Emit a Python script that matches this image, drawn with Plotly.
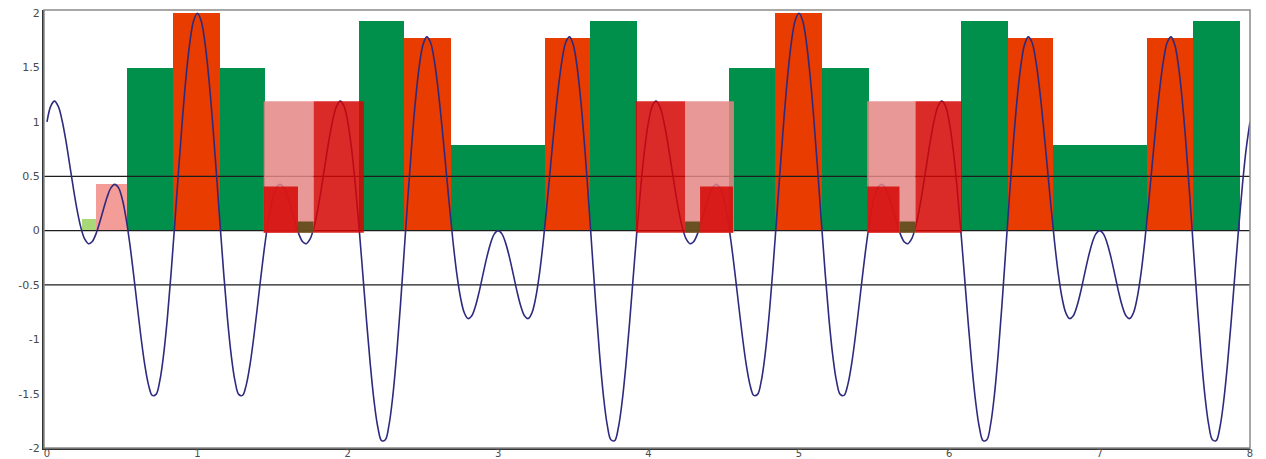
import plotly.graph_objects as go

# ---------------- data ----------------
# Curve: values sampled every 0.025 along x from 0 to 8
CURVE_STEP = 0.025
curve_y = [
    # x = 0.000 .. 0.975
    1.000, 1.146, 1.192, 1.143, 1.016, 0.832, 0.615, 0.393, 0.191, 0.030,
    -0.076, -0.120, -0.102, -0.032, 0.074, 0.195, 0.309, 0.393, 0.426, 0.396,
    0.293, 0.120, -0.115, -0.393, -0.691, -0.981, -1.233, -1.419, -1.516, -1.507,
    -1.383, -1.146, -0.809, -0.393, 0.074, 0.556, 1.016, 1.419, 1.733, 1.932,
    # x = 1.000 .. 3.000
    2.000, 1.932, 1.733, 1.419, 1.016, 0.556, 0.074, -0.393, -0.809, -1.146,
    -1.383, -1.507, -1.516, -1.419, -1.233, -0.981, -0.691, -0.393, -0.115, 0.120,
    0.293, 0.396, 0.426, 0.393, 0.309, 0.195, 0.074, -0.032, -0.102, -0.120,
    -0.076, 0.030, 0.191, 0.393, 0.615, 0.832, 1.016, 1.143, 1.192, 1.146,
    1.000, 0.756, 0.426, 0.032, -0.398, -0.832, -1.233, -1.569, -1.809, -1.932,
    -1.924, -1.783, -1.516, -1.143, -0.692, -0.195, 0.309, 0.783, 1.192, 1.507,
    1.707, 1.783, 1.733, 1.569, 1.309, 0.981, 0.615, 0.244, -0.102, -0.396,
    -0.617, -0.756, -0.809, -0.783, -0.692, -0.556, -0.398, -0.244, -0.115, -0.030,
    0.000,
    # x = 3.025 .. 5.000
    -0.030, -0.115, -0.244, -0.398, -0.556, -0.692, -0.783, -0.809, -0.756, -0.617,
    -0.396, -0.102, 0.244, 0.615, 0.981, 1.309, 1.569, 1.733, 1.783, 1.707,
    1.507, 1.192, 0.783, 0.309, -0.195, -0.692, -1.143, -1.516, -1.783, -1.924,
    -1.932, -1.809, -1.569, -1.233, -0.832, -0.398, 0.032, 0.426, 0.756, 1.000,
    1.146, 1.192, 1.143, 1.016, 0.832, 0.615, 0.393, 0.191, 0.030, -0.076,
    -0.120, -0.102, -0.032, 0.074, 0.195, 0.309, 0.393, 0.426, 0.396, 0.293,
    0.120, -0.115, -0.393, -0.691, -0.981, -1.233, -1.419, -1.516, -1.507, -1.383,
    -1.146, -0.809, -0.393, 0.074, 0.556, 1.016, 1.419, 1.733, 1.932, 2.000,
    # x = 5.025 .. 7.000
    1.932, 1.733, 1.419, 1.016, 0.556, 0.074, -0.393, -0.809, -1.146, -1.383,
    -1.507, -1.516, -1.419, -1.233, -0.981, -0.691, -0.393, -0.115, 0.120, 0.293,
    0.396, 0.426, 0.393, 0.309, 0.195, 0.074, -0.032, -0.102, -0.120, -0.076,
    0.030, 0.191, 0.393, 0.615, 0.832, 1.016, 1.143, 1.192, 1.146, 1.000,
    0.756, 0.426, 0.032, -0.398, -0.832, -1.233, -1.569, -1.809, -1.932, -1.924,
    -1.783, -1.516, -1.143, -0.692, -0.195, 0.309, 0.783, 1.192, 1.507, 1.707,
    1.783, 1.733, 1.569, 1.309, 0.981, 0.615, 0.244, -0.102, -0.396, -0.617,
    -0.756, -0.809, -0.783, -0.692, -0.556, -0.398, -0.244, -0.115, -0.030, 0.000,
    # x = 7.025 .. 8.000
    -0.030, -0.115, -0.244, -0.398, -0.556, -0.692, -0.783, -0.809, -0.756, -0.617,
    -0.396, -0.102, 0.244, 0.615, 0.981, 1.309, 1.569, 1.733, 1.783, 1.707,
    1.507, 1.192, 0.783, 0.309, -0.195, -0.692, -1.143, -1.516, -1.783, -1.924,
    -1.932, -1.809, -1.569, -1.233, -0.832, -0.398, 0.032, 0.426, 0.756, 1.000,
]
curve_x = [round(i * CURVE_STEP, 3) for i in range(len(curve_y))]

# Opaque bars: left edge, right edge, height, kind
bar_left = [0.230, 0.325, 0.533, 0.839, 1.149, 2.078, 2.377, 2.687, 3.313, 3.612,
            4.535, 4.841, 5.151, 6.078, 6.388, 6.693, 7.318, 7.618]
bar_right = [0.325, 0.533, 0.839, 1.149, 1.448, 2.377, 2.687, 3.313, 3.624, 3.922,
             4.845, 5.151, 5.465, 6.388, 6.693, 7.324, 7.618, 7.933]
bar_height = [0.11, 0.43, 1.50, 2.00, 1.50, 1.925, 1.775, 0.79, 1.775, 1.925,
              1.50, 2.00, 1.50, 1.925, 1.775, 0.79, 1.775, 1.925]
bar_kind = ["trough_small", "peak_small", "trough", "peak", "trough", "trough", "peak",
            "trough", "peak", "trough", "trough", "peak", "trough", "trough", "peak",
            "trough", "peak", "trough"]

# Translucent overlay blocks: left, right, top, kind (drawn over the curve)
ov_left = [1.441, 1.441, 1.669, 1.773, 3.916, 4.243, 4.243, 4.343, 5.454, 5.454, 5.669, 5.775]
ov_right = [1.773, 1.669, 1.773, 2.107, 4.243, 4.568, 4.343, 4.562, 5.775, 5.669, 5.775, 6.084]
ov_top = [1.19, 0.405, 0.085, 1.19, 1.19, 1.19, 0.085, 0.405, 1.19, 0.405, 0.085, 1.19]
ov_kind = ["halo", "red", "olive", "red", "red", "halo", "olive", "red", "halo", "red", "olive", "red"]
ov_base = -0.02

ref_levels = [-0.5, 0.0, 0.5]
x_ticks = [0, 1, 2, 3, 4, 5, 6, 7, 8]
y_ticks = [-2, -1.5, -1, -0.5, 0, 0.5, 1, 1.5, 2]

# ---------------- styles ----------------
bar_colors = {"trough_small": "#A8D878", "peak_small": "#F49C98",
              "trough": "#00904C", "peak": "#E83C00"}
ov_colors = {"halo": "rgba(228,134,132,0.85)", "red": "rgba(212,6,3,0.85)",
             "olive": "rgba(85,68,14,0.85)"}
X_RANGE = [-0.02, 8.0]
Y_RANGE = [-2.0, 2.03]

fig = go.Figure()

fig.add_trace(go.Bar(
    x=[(l + r) / 2 for l, r in zip(bar_left, bar_right)],
    width=[r - l for l, r in zip(bar_left, bar_right)],
    y=bar_height, base=0,
    marker=dict(color=[bar_colors[k] for k in bar_kind], line=dict(width=0)),
    hoverinfo="skip", showlegend=False))

# reference lines
rx, ry = [], []
for lv in ref_levels:
    rx += [X_RANGE[0], X_RANGE[1], None]
    ry += [lv, lv, None]
fig.add_trace(go.Scatter(x=rx, y=ry, mode="lines", line=dict(color="#1e1e1e", width=1.2),
                         hoverinfo="skip", showlegend=False))

# curve
fig.add_trace(go.Scatter(x=curve_x, y=curve_y, mode="lines",
                         line=dict(color="#2E2A7E", width=1.6, shape="spline", smoothing=1.0),
                         hoverinfo="skip", showlegend=False))

# translucent overlay blocks
for kind in ["halo", "red", "olive"]:
    xs, ys = [], []
    for l, r, t, k in zip(ov_left, ov_right, ov_top, ov_kind):
        if k != kind:
            continue
        xs += [l, l, r, r, l, None]
        ys += [ov_base, t, t, ov_base, ov_base, None]
    fig.add_trace(go.Scatter(x=xs, y=ys, mode="lines", fill="toself",
                             fillcolor=ov_colors[kind], line=dict(width=0),
                             hoverinfo="skip", showlegend=False))

fig.update_layout(
    width=1266, height=459,
    margin=dict(l=44, r=16, t=10, b=11, autoexpand=False),
    paper_bgcolor="white", plot_bgcolor="white",
    barmode="overlay", bargap=0, showlegend=False,
    font=dict(family="DejaVu Sans", size=11, color="#4a4a4a"),
    shapes=[dict(type="rect", xref="paper", yref="paper", x0=0, x1=1, y0=0, y1=1,
                 line=dict(color="#8a8a8a", width=1.5), layer="above")],
)
fig.update_xaxes(range=X_RANGE, tickvals=x_ticks, ticktext=[str(v) for v in x_ticks],
                 showgrid=False, zeroline=False, showline=True, linecolor="#333333",
                 linewidth=2, ticks="", automargin=False, ticklabelstandoff=-5,
                 tickfont=dict(size=10))
fig.update_yaxes(range=Y_RANGE, tickvals=y_ticks, ticktext=[f"{v:g}" for v in y_ticks],
                 showgrid=False, zeroline=False, showline=True, linecolor="#333333",
                 linewidth=2, ticks="", automargin=False)

fig.write_html("out.html")
